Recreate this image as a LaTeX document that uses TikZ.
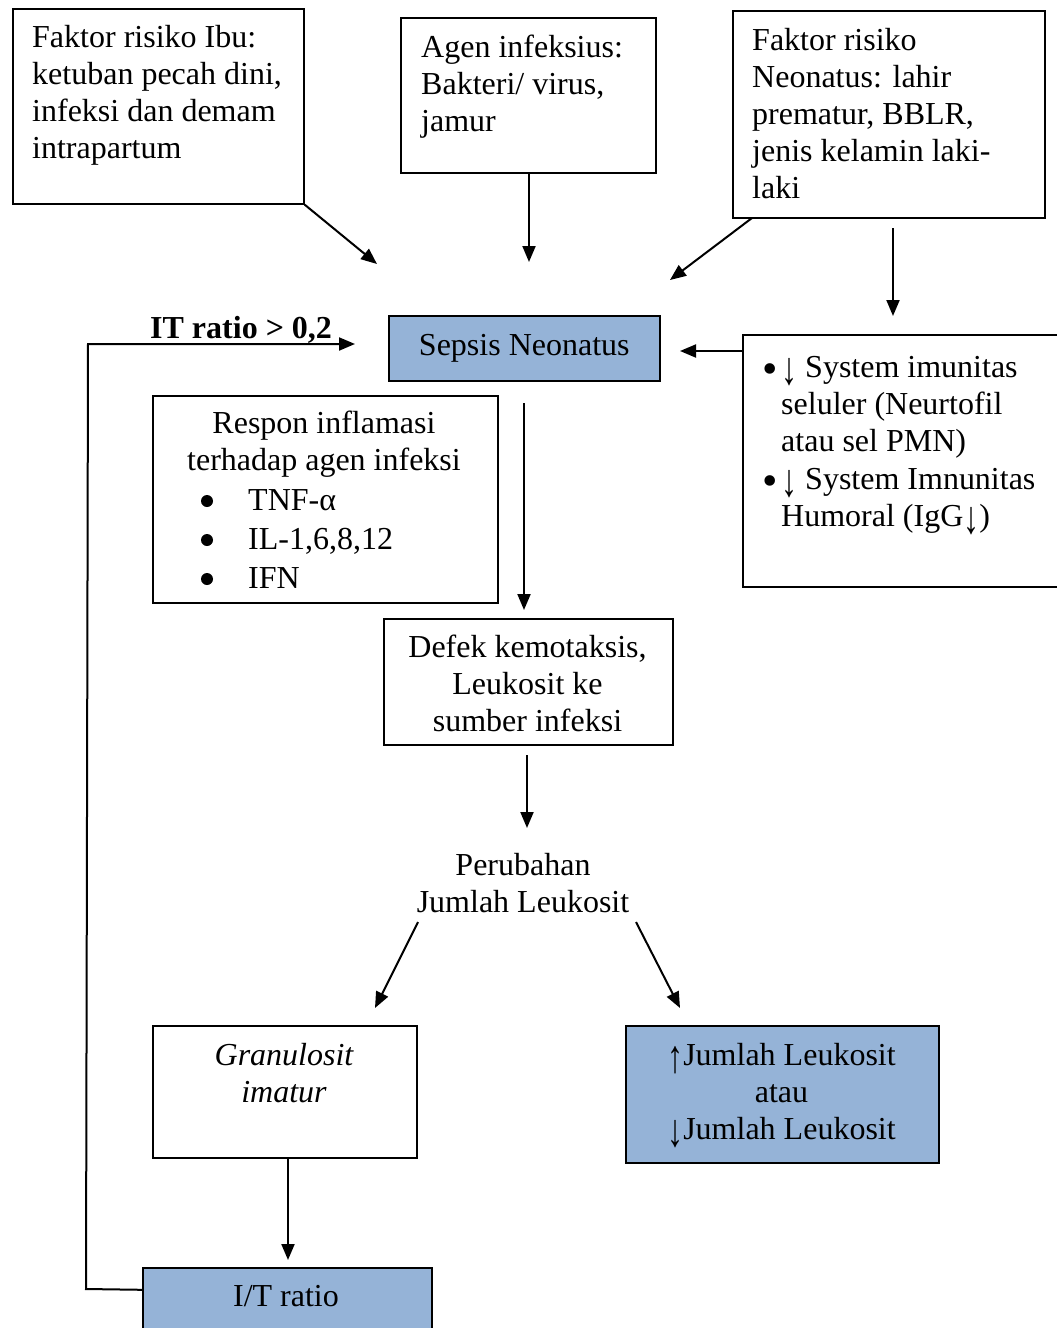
\documentclass[tikz,border=0pt]{standalone}
\usepackage{fontspec}
\usepackage{graphicx}
\setmainfont{Liberation Serif}
\usetikzlibrary{arrows.meta}
\definecolor{boxblue}{RGB}{149,179,215}
\newcommand\myDn{\raisebox{-0.22em}{\scalebox{1}[1.45]{↓}}}
\newcommand\myUp{\raisebox{-0.22em}{\scalebox{1}[1.45]{↑}}}
\newcommand\myBul{\smash{\raisebox{-6pt}{\fontsize{44}{37}\selectfont •}}}
\begin{document}
\begin{tikzpicture}[x=1pt,y=-1pt,
  every node/.style={font=\fontsize{32}{37}\selectfont, inner sep=0pt},
  box/.style={draw, line width=1.6pt, rectangle, anchor=north west},
  bluebox/.style={box, fill=boxblue},
  arr/.style={line width=2pt, -{Triangle[length=16pt,width=13pt]}},
  txt/.style={align=left, anchor=base west},
  ctxt/.style={align=center, anchor=base}]
\useasboundingbox (0,0) rectangle (1057,1328);
\fill[white] (0,0) rectangle (1057,1328);

% boxes
\node[box, minimum width=291pt, minimum height=195pt] (ibu) at (12,8) {};
\node[box, minimum width=255pt, minimum height=155pt] (agen) at (400,17) {};
\node[box, minimum width=312pt, minimum height=207pt] (neo) at (732,10) {};
\node[bluebox, minimum width=271pt, minimum height=65pt] (sepsis) at (388,315) {Sepsis Neonatus};
\node[box, minimum width=330pt, minimum height=252pt] (imun) at (742,334) {};
\node[box, minimum width=345pt, minimum height=207pt] (respon) at (152,395) {};
\node[box, minimum width=289pt, minimum height=126pt] (defek) at (383,618) {};
\node[box, minimum width=264pt, minimum height=132pt] (gran) at (152,1025) {};
\node[bluebox, minimum width=313pt, minimum height=137pt] (jumlah) at (625,1025) {};
\node[bluebox, minimum width=289pt, minimum height=80pt] (itr) at (142,1267) {};

% texts (anchor base = baseline of last line)
\node[txt] (tibu) at (32,158) {Faktor risiko Ibu:\\ketuban pecah dini,\\infeksi dan demam\\intrapartum};
\node[txt] (tagen) at (421,131) {Agen infeksius:\\Bakteri/ virus,\\jamur};
\node[txt] (tneo) at (752,198) {Faktor risiko\\Neonatus: lahir\\prematur, BBLR,\\jenis kelamin laki-\\laki};
\node[anchor=base west, font=\fontsize{32}{37}\selectfont\bfseries] (itlab) at (150,338) {IT ratio > 0,2};
\node[txt] (timun1) at (762,451) {\makebox[19pt][l]{\myBul}\myDn{} System imunitas\\\hspace*{19pt}seluler (Neurtofil\\\hspace*{19pt}atau sel PMN)};
\node[txt] (timun2) at (762,526) {\makebox[19pt][l]{\myBul}\myDn{} System Imnunitas\\\hspace*{19pt}Humoral (IgG\myDn)};
\node[ctxt] (tresp) at (324,470) {Respon inflamasi\\terhadap agen infeksi};
\node[circle, fill, minimum size=12pt] (b1) at (207,501) {};
\node[circle, fill, minimum size=12pt] (b2) at (207,540) {};
\node[circle, fill, minimum size=12pt] (b3) at (207,579) {};
\node[txt] (l1) at (248,510) {TNF-α};
\node[txt] (l2) at (248,549) {IL-1,6,8,12};
\node[txt] (l3) at (248,588) {IFN};
\node[ctxt] (tdefek) at (527.5,731) {Defek kemotaksis,\\Leukosit ke\\sumber infeksi};
\node[ctxt] (perub) at (523,912) {Perubahan\\Jumlah Leukosit};
\node[ctxt, font=\fontsize{32}{37}\selectfont\itshape] (tgran) at (284,1102) {Granulosit\\imatur};
\node[ctxt] (tjum) at (781.5,1139) {\myUp Jumlah Leukosit\\atau\\\myDn Jumlah Leukosit};
\node[anchor=base] (titr) at (286,1306) {I/T ratio};

% coordinates for free ends
\coordinate (e1) at (377,264);
\coordinate (e2) at (529,262);
\coordinate (s3) at (752,218);
\coordinate (e3) at (670,280);
\coordinate (s4) at (893,228);
\coordinate (e4) at (893,316);
\coordinate (e5) at (680,351);
\coordinate (s6) at (524,403);
\coordinate (e6) at (524,610);
\coordinate (s7) at (527,755);
\coordinate (e7) at (527,828);
\coordinate (s8) at (418,922);
\coordinate (e8) at (375,1008);
\coordinate (s9) at (636,922);
\coordinate (e9) at (680,1008);
\coordinate (e10) at (288,1260);
\coordinate (c1) at (86,1289);
\coordinate (c2) at (88,344);
\coordinate (e11) at (355,344);

% connectors
\draw[arr] (ibu.south east) -- (e1);
\draw[arr] (agen.south -| e2) -- (e2);
\draw[arr] (s3) -- (e3);
\draw[arr] (s4) -- (e4);
\draw[arr] ([yshift=-17pt]imun.north west) -- (e5);
\draw[arr] (s6) -- (e6);
\draw[arr] (s7) -- (e7);
\draw[arr] (s8) -- (e8);
\draw[arr] (s9) -- (e9);
\draw[arr] (gran.south -| e10) -- (e10);
\draw[arr] ([yshift=18pt]itr.west) -- (c1) -- (c2) -- (e11);
\end{tikzpicture}
\end{document}
